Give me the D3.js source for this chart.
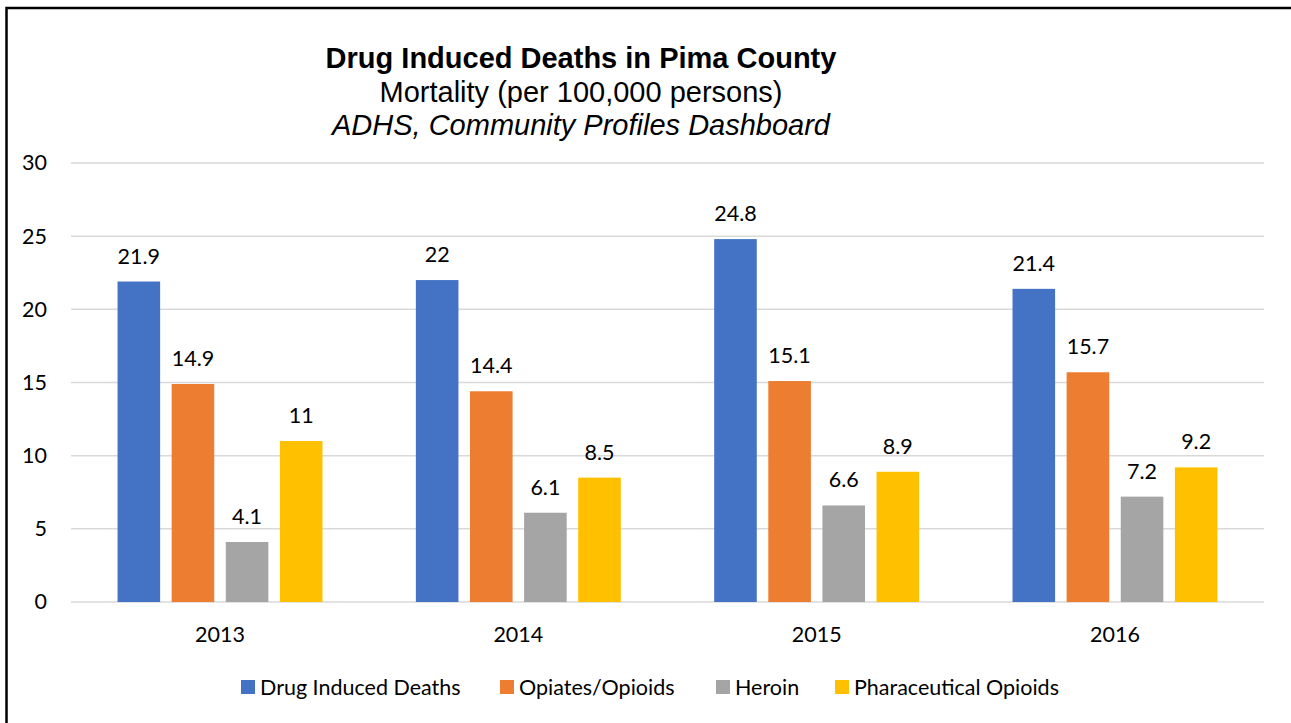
<!DOCTYPE html>
<html>
<head>
<meta charset="utf-8">
<script src="https://cdn.jsdelivr.net/npm/d3@7"></script>
<style>
  body { margin: 0; background: #fff; }
  .tick-label, .data-label, .legend-label { font-family: Lato, "Noto Sans", sans-serif; fill: #000; }
  .title { font-family: "Liberation Sans", Arial, sans-serif; fill: #000; }
</style>
</head>
<body>
<div id="chart_area"></div>
<script>
// chart data
var years = ["2013", "2014", "2015", "2016"];
var seriesNames = ["Drug Induced Deaths", "Opiates/Opioids", "Heroin", "Pharaceutical Opioids"];
var seriesColors = ["#4472C4", "#ED7D31", "#A5A5A5", "#FFC000"];
var drugInduced = [21.9, 22, 24.8, 21.4];
var opioids = [14.9, 14.4, 15.1, 15.7];
var heroin = [4.1, 6.1, 6.6, 7.2];
var pharma = [11, 8.5, 8.9, 9.2];
var yTicks = [0, 5, 10, 15, 20, 25, 30];

var seriesValues = [drugInduced, opioids, heroin, pharma];

// build rows per year
var dataset = years.map(function(y, i) {
	return {
		year: y,
		values: seriesNames.map(function(s, j) { return { name: s, color: seriesColors[j], value: seriesValues[j][i] }; })
	};
});

var frame_width = 1291;
var frame_height = 723;
var margin = {top: 163, right: 27, bottom: 121, left: 71};
var canvas_width = frame_width - margin.left - margin.right;
var canvas_height = frame_height - margin.top - margin.bottom;
var labelSize = "21.5px";

var frame = d3.select("#chart_area").append("svg")
	.attr("width", frame_width)
	.attr("height", frame_height);

// outer border (runs off the right and bottom edges)
frame.append("rect")
	.attr("x", 6.5).attr("y", 8)
	.attr("width", 1320).attr("height", 760)
	.attr("fill", "none")
	.attr("stroke", "#000")
	.attr("stroke-width", 2.5);

// titles
frame.append("text").attr("class", "title")
	.attr("x", 581).attr("y", 68)
	.attr("text-anchor", "middle")
	.style("font-size", "29px").style("font-weight", "bold")
	.text("Drug Induced Deaths in Pima County");
frame.append("text").attr("class", "title")
	.attr("x", 581).attr("y", 102)
	.attr("text-anchor", "middle")
	.style("font-size", "29px")
	.text("Mortality (per 100,000 persons)");
frame.append("text").attr("class", "title")
	.attr("x", 581).attr("y", 135)
	.attr("text-anchor", "middle")
	.style("font-size", "29px").style("font-style", "italic")
	.text("ADHS, Community Profiles Dashboard");

var canvas = frame.append("g")
	.attr("transform", "translate(" + margin.left + "," + margin.top + ")");

// scales
var x0 = d3.scaleBand()
	.domain(years)
	.range([0, canvas_width])
	.paddingInner(0.313)
	.paddingOuter(0.156);
var x1 = d3.scaleBand()
	.domain(seriesNames)
	.range([0, x0.bandwidth()])
	.paddingInner(0.213);
var yScale = d3.scaleLinear()
	.domain([0, 30])
	.range([canvas_height, 0]);

// gridlines
canvas.append("g")
	.selectAll("line")
	.data(yTicks)
	.enter().append("line")
	.attr("x1", 0).attr("x2", canvas_width)
	.attr("y1", function(d) { return yScale(d); })
	.attr("y2", function(d) { return yScale(d); })
	.attr("stroke", "#D9D9D9")
	.attr("stroke-width", 1.5);

// y axis labels
var yAxis = d3.axisLeft(yScale).tickValues(yTicks).tickSize(0).tickPadding(24);
var yg = canvas.append("g").call(yAxis);
yg.select(".domain").remove();
yg.selectAll("text").attr("class", "tick-label").style("font-size", labelSize);

// x axis labels
var xAxis = d3.axisBottom(x0).tickSize(0).tickPadding(25);
var xg = canvas.append("g").attr("transform", "translate(0," + canvas_height + ")").call(xAxis);
xg.select(".domain").remove();
xg.selectAll("text").attr("class", "tick-label").style("font-size", labelSize);

// bars
var groups = canvas.selectAll(".group")
	.data(dataset)
	.enter().append("g")
	.attr("class", "group")
	.attr("transform", function(d) { return "translate(" + x0(d.year) + ",0)"; });

groups.selectAll("rect")
	.data(function(d) { return d.values; })
	.enter().append("rect")
	.attr("x", function(d) { return x1(d.name); })
	.attr("width", x1.bandwidth())
	.attr("y", function(d) { return yScale(d.value); })
	.attr("height", function(d) { return canvas_height - yScale(d.value); })
	.attr("fill", function(d) { return d.color; });

groups.selectAll(".data-label")
	.data(function(d) { return d.values; })
	.enter().append("text")
	.attr("class", "data-label")
	.attr("x", function(d) { return x1(d.name) + x1.bandwidth() / 2; })
	.attr("y", function(d) { return yScale(d.value) - 18; })
	.attr("text-anchor", "middle")
	.style("font-size", labelSize)
	.text(function(d) { return d.value; });

// legend
var legendX = [241, 500, 716, 835];
var legend = frame.append("g");
var items = legend.selectAll("g")
	.data(seriesNames)
	.enter().append("g")
	.attr("transform", function(d, i) { return "translate(" + legendX[i] + ",680)"; });
items.append("rect")
	.attr("width", 14).attr("height", 14)
	.attr("fill", function(d, i) { return seriesColors[i]; });
items.append("text")
	.attr("class", "legend-label")
	.attr("x", 19).attr("y", 14.5)
	.style("font-size", labelSize)
	.text(function(d) { return d; });
</script>
</body>
</html>
